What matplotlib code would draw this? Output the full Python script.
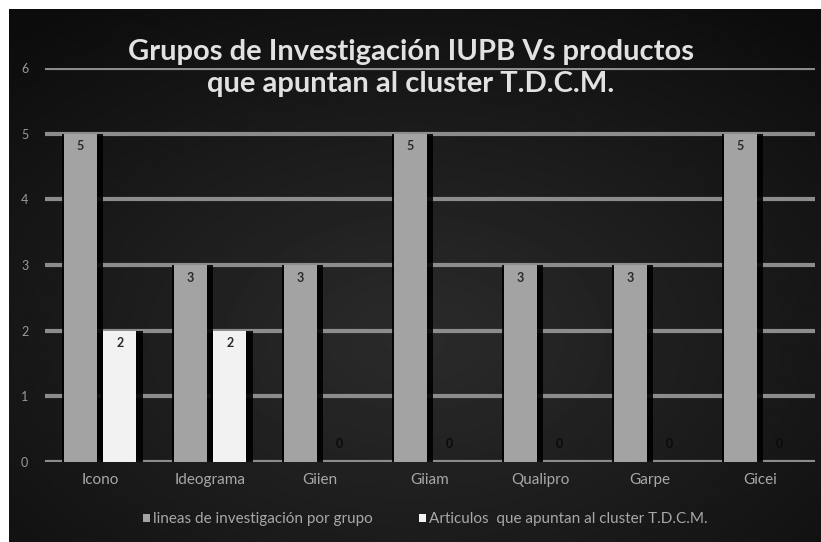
import matplotlib.pyplot as plt
import numpy as np
from matplotlib.patches import Rectangle

# datos del grafico
grupos = ['Icono', 'Ideograma', 'Giien', 'Giiam', 'Qualipro', 'Garpe', 'Gicei']
lineas = [5, 3, 3, 5, 3, 3, 5]
articulos = [2, 2, 0, 0, 0, 0, 0]
serie_lineas = 'lineas de investigación por grupo'
serie_articulos = 'Articulos  que apuntan al cluster T.D.C.M.'
titulo1 = 'Grupos de Investigación IUPB Vs productos'
titulo2 = 'que apuntan al cluster T.D.C.M.'

plt.rcParams['font.family'] = ['Lato', 'DejaVu Sans']

fig = plt.figure(figsize=(8.21, 5.42), dpi=100)
fig.patch.set_facecolor('white')

# fondo oscuro con degradado radial
bg = fig.add_axes([9/821, 0, 1 - 9/821, 1 - 9/542])
yy, xx = np.mgrid[0:1:300j, 0:1:450j]
r = np.sqrt(((xx - 0.5) / 0.75) ** 2 + ((yy - 0.62) / 0.75) ** 2)
grad = np.clip(0.17 - 0.12 * r, 0.05, 0.2)
bg.imshow(grad, cmap='gray', vmin=0, vmax=1, aspect='auto', extent=[0, 1, 0, 1])
bg.set_axis_off()

ax = fig.add_axes([45/821, 1 - 462/542, 770/821, (462 - 68)/542])
ax.set_facecolor('none')
x = np.arange(len(grupos))
w = 0.3
off = 0.18

ax.set_xlim(-0.5, 6.5)
ax.set_ylim(0, 6)
for v in range(0, 7):
    ax.axhline(v, color='#8c8c8c', lw=3, zorder=1)

# sombras a la derecha de las barras
for xi, v in zip(x - off, lineas):
    ax.add_patch(Rectangle((xi - w/2 - 0.02, 0), w + 0.08, v, color='black', alpha=0.9, zorder=2, lw=0))
for xi, v in zip(x + off, articulos):
    if v > 0:
        ax.add_patch(Rectangle((xi - w/2 - 0.02, 0), w + 0.08, v, color='black', alpha=0.9, zorder=2, lw=0))

ax.bar(x - off, lineas, w, color='#a3a3a3', zorder=3, label=serie_lineas)
ax.bar(x + off, articulos, w, color='#f2f2f2', zorder=3, label=serie_articulos)

for xi, v in zip(x - off, lineas):
    ax.text(xi, v - 0.1, str(v), ha='center', va='top', fontsize=9, fontweight='bold', color='#2a2a2a', zorder=4)
for xi, v in zip(x + off, articulos):
    if v > 0:
        ax.text(xi, v - 0.1, str(v), ha='center', va='top', fontsize=9, fontweight='bold', color='#2a2a2a', zorder=4)
    else:
        ax.text(xi, 0.27, str(v), ha='center', va='center', fontsize=9, fontweight='bold', color='#0a0a0a', zorder=4)

ax.set_xticks(x)
ax.set_xticklabels(grupos, color='#a8a8a8', fontsize=11)
ax.set_yticks(range(0, 7))
ax.set_yticklabels([str(v) for v in range(0, 7)], color='#9a9a9a', fontsize=9)
ax.tick_params(length=0)
ax.tick_params(axis='x', pad=8)
ax.tick_params(axis='y', pad=12)
for s in ax.spines.values():
    s.set_visible(False)

fig.text(411/821, 1 - 52/542, titulo1, ha='center', va='center', fontsize=21, fontweight='bold', color='#e2e2e2')
fig.text(411/821, 1 - 84/542, titulo2, ha='center', va='center', fontsize=21, fontweight='bold', color='#e2e2e2')

leg = ax.legend(loc='center', bbox_to_anchor=(0.494, -0.145), ncol=2, frameon=False,
                fontsize=11, handlelength=0.45, handleheight=0.45, handletextpad=0.2,
                columnspacing=3.0)
for t in leg.get_texts():
    t.set_color('#a8a8a8')

fig.savefig('out.png', dpi=100, facecolor=fig.get_facecolor())
